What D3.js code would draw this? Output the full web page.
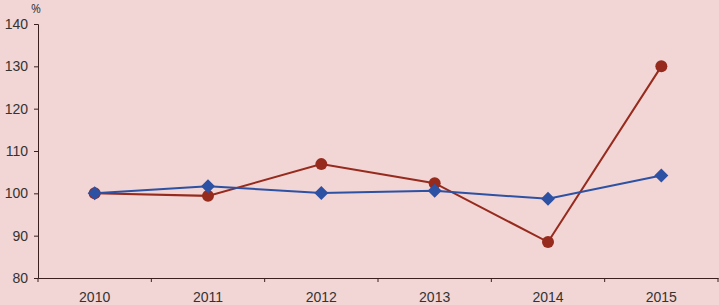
<!DOCTYPE html>
<html>
<head>
<meta charset="utf-8">
<script src="https://cdn.jsdelivr.net/npm/d3@7"></script>
<style>
  body { margin: 0; background: #f2d5d5; }
  svg { display: block; }
</style>
</head>
<body>
<div id="chart"></div>
<script>
const years = ["2010", "2011", "2012", "2013", "2014", "2015"];
const blueSeries = [100, 101.7, 100.1, 100.6, 98.7, 104.2];
const redSeries = [100, 99.4, 106.9, 102.4, 88.5, 130.0];
const yTicks = [80, 90, 100, 110, 120, 130, 140];

const W = 719, H = 305;
const margin = {top: 24, left: 38, bottom: 27, right: 1};
const width = W - margin.left - margin.right;
const height = H - margin.top - margin.bottom;

const svg = d3.select("#chart")
  .append("svg")
  .attr("width", W)
  .attr("height", H)
  .style("font-family", "'Open Sans', sans-serif");

svg.append("rect").attr("width", W).attr("height", H).attr("fill", "#f2d5d5");

const g = svg.append("g").attr("transform", `translate(${margin.left}, ${margin.top})`);

const xScale = d3.scaleBand().domain(years).range([0, width]);
const yScale = d3.scaleLinear().domain([80, 140]).range([height, 0]);

const axisColor = "#3b2020";
const textColor = "#333";

// y axis
const yAxis = g.append("g")
  .call(d3.axisLeft(yScale).tickValues(yTicks).tickSize(4).tickPadding(6));
yAxis.select(".domain").attr("stroke", axisColor);
yAxis.selectAll(".tick line").attr("stroke", axisColor);
yAxis.selectAll("text").attr("fill", textColor).style("font-size", "14px");

// x axis, ticks sit on the band edges
const xAxis = g.append("g").attr("transform", `translate(0, ${height})`)
  .call(d3.axisBottom(xScale).tickSize(0).tickPadding(14));
xAxis.select(".domain").attr("stroke", axisColor);
xAxis.selectAll("text").attr("fill", textColor).style("font-size", "14px");
const bounds = years.map(y => xScale(y)).concat([width]);
xAxis.selectAll(".bnd")
  .data(bounds)
  .enter()
  .append("line")
  .attr("x1", d => d).attr("x2", d => d)
  .attr("y1", 0).attr("y2", 4)
  .attr("stroke", axisColor);

// % label
svg.append("text")
  .attr("x", 31).attr("y", 13)
  .attr("fill", textColor)
  .style("font-size", "12px")
  .text("%");

const cx = d => xScale(d) + xScale.bandwidth() / 2;

function drawLine(values, color) {
  const line = d3.line()
    .x((d, i) => cx(years[i]))
    .y(d => yScale(d));
  g.append("path")
    .datum(values)
    .attr("fill", "none")
    .attr("stroke", color)
    .attr("stroke-width", 2)
    .attr("d", line);
}

const red = "#962a1d";
const blue = "#2d51a3";

drawLine(redSeries, red);
drawLine(blueSeries, blue);

g.selectAll(".dot")
  .data(redSeries)
  .enter()
  .append("circle")
  .attr("cx", (d, i) => cx(years[i]))
  .attr("cy", d => yScale(d))
  .attr("r", 6)
  .attr("fill", red);

g.selectAll(".diamond")
  .data(blueSeries)
  .enter()
  .append("path")
  .attr("transform", (d, i) => `translate(${cx(years[i])}, ${yScale(d)})`)
  .attr("d", "M0,-7L7,0L0,7L-7,0Z")
  .attr("fill", blue);
</script>
</body>
</html>
